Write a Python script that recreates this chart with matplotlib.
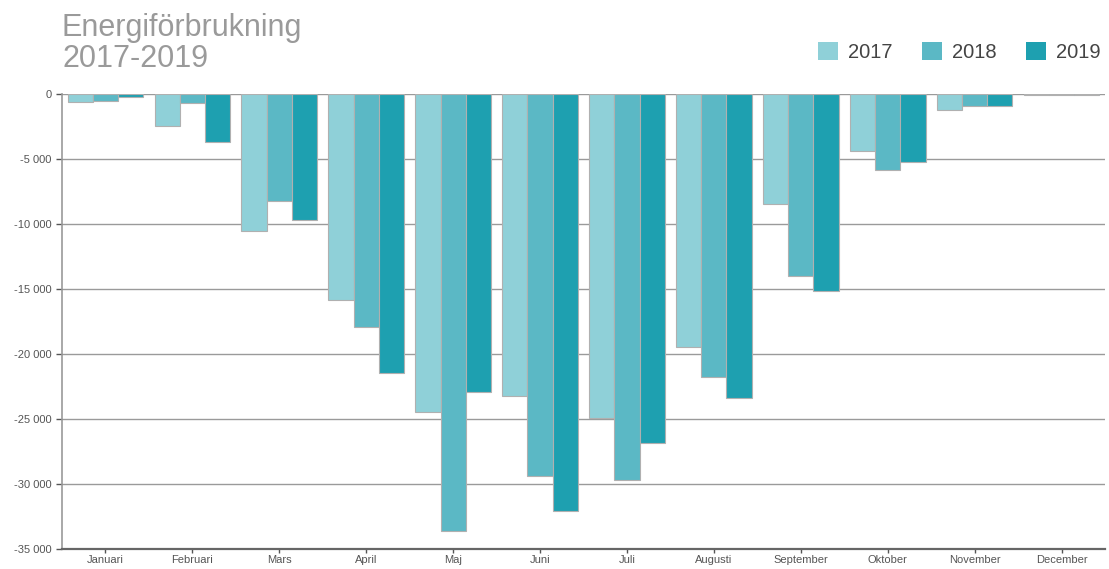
import matplotlib.pyplot as plt
import numpy as np
from matplotlib.ticker import FuncFormatter
from matplotlib.patches import Patch

months = ["Januari", "Februari", "Mars", "April", "Maj", "Juni",
          "Juli", "Augusti", "September", "Oktober", "November", "December"]
years = ["2017", "2018", "2019"]

v2017 = [-600, -2450, -10550, -15850, -24450, -23250, -24900, -19450, -8450, -4400, -1250, -100]
v2018 = [-500, -700, -8250, -17900, -33600, -29400, -29700, -21750, -14000, -5850, -900, -100]
v2019 = [-250, -3700, -9700, -21450, -22900, -32100, -26850, -23400, -15150, -5250, -900, -50]

colors = ["#8fd0d8", "#5bb8c5", "#1ea0b0"]

plt.rcParams['font.family'] = ['Liberation Sans', 'DejaVu Sans']

fig = plt.figure(figsize=(11.09, 5.69), dpi=100)
ax = fig.add_axes([62 / 1109, 1 - 549 / 569, (1105 - 62) / 1109, (549 - 94) / 569])

x = np.arange(len(months))
w = 0.29
for i, (vals, c) in enumerate(zip([v2017, v2018, v2019], colors)):
    ax.bar(x + (i - 1) * w, vals, width=w, color=c, edgecolor="#b0b0b0",
           linewidth=0.8, zorder=3)

ax.set_xlim(-0.5, 11.5)
ax.set_ylim(-35000, 0)
ax.set_yticks(np.arange(-35000, 1, 5000))
ax.yaxis.set_major_formatter(FuncFormatter(
    lambda v, p: "0" if v == 0 else f"{int(v):,}".replace(",", " ")))
ax.set_xticks(x)
ax.set_xticklabels(months)

ax.grid(axis="y", color="#9a9a9a", linewidth=1, zorder=0)
for s in ["top", "right"]:
    ax.spines[s].set_visible(False)
ax.spines["left"].set_color("#999999")
ax.spines["left"].set_linewidth(1.2)
ax.spines["bottom"].set_color("#666666")
ax.spines["bottom"].set_linewidth(1.6)
ax.tick_params(axis="both", labelsize=8, colors="#555555", length=4, width=1)
ax.tick_params(axis="x", pad=1.5, length=3)

fig.text(62 / 1109, 1 - 13 / 569, "Energiförbrukning\n2017-2019", fontsize=22,
         color="#9a9a9a", va="top", ha="left", linespacing=1.05)

handles = [Patch(facecolor=c, edgecolor="none") for c in colors]
fig.legend(handles, years, loc="upper right", bbox_to_anchor=(1.009, 1 - 24 / 569),
           ncol=3, frameon=False, fontsize=14.5, handlelength=1.0, handleheight=1.0,
           columnspacing=1.45, handletextpad=0.5, labelcolor="#444444")

fig.savefig("out.png", dpi=100)
